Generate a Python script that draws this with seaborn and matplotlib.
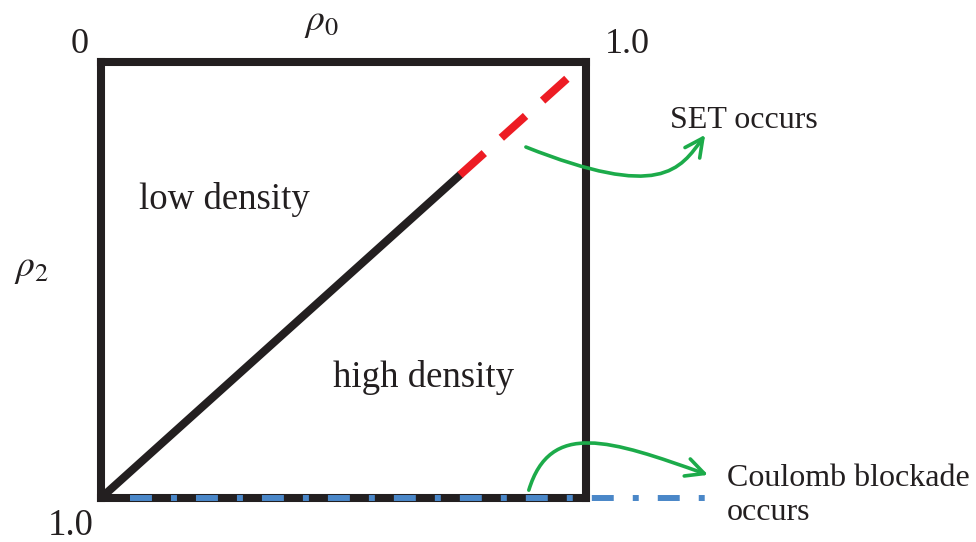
import numpy as np
import pandas as pd
import matplotlib.pyplot as plt
import seaborn as sns
from matplotlib.patches import FancyArrowPatch
from matplotlib.path import Path

## DATA ##

# boundary line rho2 = 1 - rho0, solid part then dashed (SET) part
rho0_solid = [0.0, 0.741]
rho0_dashed = [0.741, 1.0]

# Coulomb blockade line along rho2 = 1.0 (runs past the box)
rho0_blockade = [0.06, 1.251]
rho2_blockade = [1.0, 1.0]

# curved pointer arrows (bezier control points, rho0 / rho2 units)
set_arrow = [(0.877, 0.195), (1.154, 0.317), (1.195, 0.248), (1.247, 0.167)]
cb_arrow = [(0.883, 0.982), (0.927, 0.821), (1.051, 0.867), (1.253, 0.947)]

corner_labels = ["0", "1.0", "1.0"]
region_labels = ["low density", "high density"]
note_labels = ["SET occurs", "Coulomb blockade\noccurs"]

#######

ink = "#231f20"
red = "#ed1c24"
blue = "#4a87c8"
green = "#1cab4a"

sns.set_theme(style="white")
plt.rcParams['font.family'] = ['Liberation Serif', 'DejaVu Serif']
plt.rcParams['mathtext.fontset'] = 'stix'
plt.rcParams['lines.scale_dashes'] = False

fig = plt.figure(figsize=(9.76, 5.42), dpi=100)
ax = fig.add_axes([101 / 976, 44 / 542, 484.5 / 976, 436 / 542])

solid = pd.DataFrame({"rho0": rho0_solid, "rho2": [1 - v for v in rho0_solid]})
dashed = pd.DataFrame({"rho0": rho0_dashed, "rho2": [1 - v for v in rho0_dashed]})
block = pd.DataFrame({"rho0": rho0_blockade, "rho2": rho2_blockade})

sns.lineplot(data=solid, x="rho0", y="rho2", color=ink, linewidth=5.8, sort=False, ax=ax)
sns.lineplot(data=dashed, x="rho0", y="rho2", color=red, linewidth=5.8, sort=False,
             linestyle=(0, (23.5, 16.5)), ax=ax)
sns.lineplot(data=block, x="rho0", y="rho2", color=blue, linewidth=4.3, sort=False,
             linestyle=(0, (15.8, 13.7, 4.3, 13.7)), ax=ax, zorder=4)
for ln in ax.lines:
    ln.set_clip_on(False)

ax.set_xlim(0, 1)
ax.set_ylim(1, 0)
ax.set_xticks([])
ax.set_yticks([])
ax.set_xlabel("")
ax.set_ylabel("")
for sp in ax.spines.values():
    sp.set_visible(True)
    sp.set_linewidth(5.8)
    sp.set_color(ink)

# axis names and end values
ax.text(0.456, -0.074, r"$\rho_0$", fontsize=27, color=ink, ha="center", va="baseline")
ax.text(-0.144, 0.491, r"$\rho_2$", fontsize=27, color=ink, ha="center", va="baseline")
ax.text(-0.044, -0.021, corner_labels[0], fontsize=26, color=ink, ha="center", va="baseline")
ax.text(1.040, -0.021, corner_labels[1], fontsize=26, color=ink, ha="left", va="baseline")
ax.text(-0.062, 1.085, corner_labels[2], fontsize=26.5, color=ink, ha="center", va="baseline")

# region names
ax.text(0.254, 0.337, region_labels[0], fontsize=26.5, color=ink, ha="center", va="baseline")
ax.text(0.665, 0.745, region_labels[1], fontsize=26.5, color=ink, ha="center", va="baseline")

# notes
ax.text(1.174, 0.151, note_labels[0], fontsize=23, color=ink, ha="left", va="baseline")
ax.text(1.292, 1.050, note_labels[1], fontsize=23, color=ink, ha="left", va="baseline",
        linespacing=1.22)

codes = [Path.MOVETO, Path.CURVE4, Path.CURVE4, Path.CURVE4]
for pts in [set_arrow, cb_arrow]:
    arr = FancyArrowPatch(path=Path(pts, codes), arrowstyle="->,head_length=13,head_width=6.5",
                          mutation_scale=1, color=green, lw=2.6, clip_on=False, zorder=5)
    ax.add_patch(arr)

fig.savefig("out.png", dpi=100)
